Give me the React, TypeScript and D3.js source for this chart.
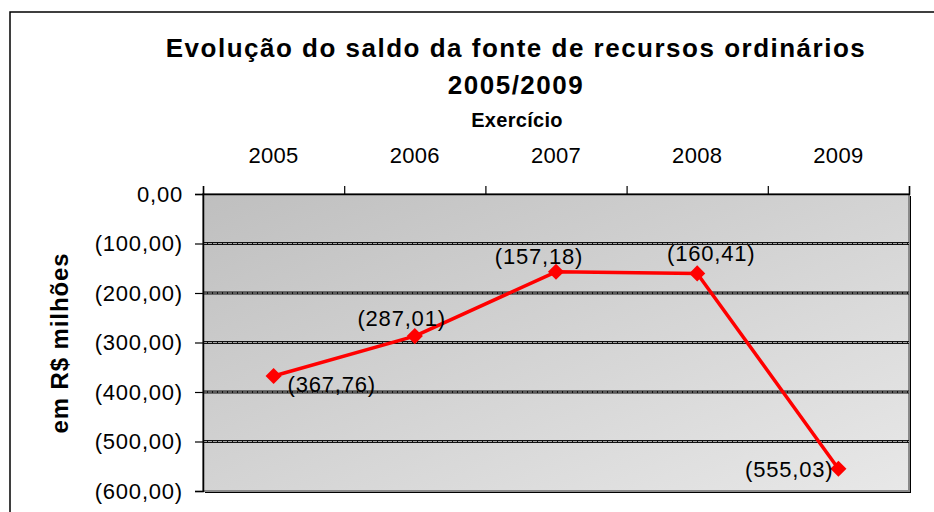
import { useEffect, useRef } from 'react';
import * as d3 from 'd3';

const years = ['2005', '2006', '2007', '2008', '2009'];
const saldo = [-367.76, -287.01, -157.18, -160.41, -555.03];
const yTicks = [0, -100, -200, -300, -400, -500, -600];

const titleLines = ['Evolução do saldo da fonte de recursos ordinários', '2005/2009'];
const xTitle = 'Exercício';
const yTitle = 'em R$ milhões';

// pt-BR style, negatives in parentheses
const fmt = (v: number) => {
  const s = Math.abs(v).toFixed(2).replace('.', ',');
  return v < 0 ? `(${s})` : s;
};

export default function App() {
  const svgRef = useRef<SVGSVGElement>(null);

  useEffect(() => {
    if (!svgRef.current) return;
    const svg = d3.select(svgRef.current);
    svg.selectAll('*').remove();

    const W = 934;
    const H = 512;
    const font = 'Arial, "Liberation Sans", sans-serif';

    // plot area
    const plot = { left: 203, right: 909, top: 194, bottom: 491 };

    const x = d3.scaleBand<string>()
      .domain(years)
      .range([plot.left, plot.right]);

    const y = d3.scaleLinear()
      .domain([0, -600])
      .range([plot.top, plot.bottom]);

    svg.attr('width', W).attr('height', H).style('font-family', font);

    // outer chart frame (right/bottom edges are off-canvas)
    svg.append('rect')
      .attr('x', 10).attr('y', 12)
      .attr('width', W + 20).attr('height', H + 20)
      .attr('fill', 'white')
      .attr('stroke', '#000')
      .attr('stroke-width', 1.5);

    // titles
    const title = svg.append('text')
      .attr('text-anchor', 'middle')
      .attr('font-weight', 'bold')
      .attr('font-size', 26)
      .attr('letter-spacing', 1.5)
      .attr('fill', '#000');
    titleLines.forEach((t, i) => {
      title.append('tspan')
        .attr('x', 516)
        .attr('y', 57 + i * 37)
        .text(t);
    });

    svg.append('text')
      .attr('x', 517)
      .attr('y', 127)
      .attr('text-anchor', 'middle')
      .attr('font-weight', 'bold')
      .attr('font-size', 20)
      .attr('letter-spacing', 0.3)
      .text(xTitle);

    svg.append('text')
      .attr('transform', `translate(68,343) rotate(-90)`)
      .attr('text-anchor', 'middle')
      .attr('font-weight', 'bold')
      .attr('font-size', 24)
      .attr('letter-spacing', 0.9)
      .text(yTitle);

    // plot background gradient
    const defs = svg.append('defs');
    const grad = defs.append('linearGradient')
      .attr('id', 'plotBg')
      .attr('x1', '0').attr('y1', '0')
      .attr('x2', '1').attr('y2', '1');
    grad.append('stop').attr('offset', '0%').attr('stop-color', '#bfbfbf');
    grad.append('stop').attr('offset', '100%').attr('stop-color', '#e8e8e8');

    // shadow below/right of plot
    svg.append('rect')
      .attr('x', plot.left + 2).attr('y', plot.top + 2)
      .attr('width', plot.right - plot.left).attr('height', plot.bottom - plot.top)
      .attr('fill', '#000');

    svg.append('rect')
      .attr('x', plot.left).attr('y', plot.top)
      .attr('width', plot.right - plot.left).attr('height', plot.bottom - plot.top)
      .attr('fill', 'url(#plotBg)')
      .attr('stroke', '#8a8a8a')
      .attr('stroke-width', 2);

    // gridlines: dark double line with light dotted core
    const grid = yTicks.filter(t => t !== 0 && t !== -600);
    svg.append('g')
      .selectAll('line')
      .data(grid)
      .join('line')
      .attr('x1', plot.left).attr('x2', plot.right)
      .attr('y1', d => y(d)).attr('y2', d => y(d))
      .attr('stroke', '#111')
      .attr('stroke-width', 3);
    svg.append('g')
      .selectAll('line')
      .data(grid)
      .join('line')
      .attr('x1', plot.left).attr('x2', plot.right)
      .attr('y1', d => y(d)).attr('y2', d => y(d))
      .attr('stroke', '#c8c8c8')
      .attr('stroke-width', 0.8)
      .attr('stroke-dasharray', '4,1');

    // y axis
    const yAxis = d3.axisLeft(y)
      .tickValues(yTicks)
      .tickSize(8)
      .tickPadding(12)
      .tickFormat(d => fmt(+d));
    const gy = svg.append('g')
      .attr('transform', `translate(${plot.left},0)`)
      .call(yAxis);
    gy.select('.domain').attr('stroke', '#000').attr('stroke-width', 1.5);
    gy.selectAll('.tick line').attr('stroke', '#000').attr('stroke-width', 1.2);
    gy.selectAll('.tick text')
      .attr('font-family', font)
      .attr('font-size', 22)
      .attr('letter-spacing', 0.8)
      .attr('fill', '#000')
      .attr('dy', '0.33em');

    // x axis on top, ticks between categories
    const xb = d3.scaleLinear().domain([0, years.length]).range([plot.left, plot.right]);
    const xAxis = d3.axisTop(xb)
      .ticks(years.length)
      .tickSize(8)
      .tickFormat(() => '');
    const gx = svg.append('g')
      .attr('transform', `translate(0,${plot.top})`)
      .call(xAxis);
    gx.select('.domain').attr('stroke', '#000').attr('stroke-width', 1.5);
    gx.selectAll('.tick line').attr('stroke', '#000').attr('stroke-width', 1.2);

    svg.append('g')
      .selectAll('text')
      .data(years)
      .join('text')
      .attr('x', d => (x(d) ?? 0) + x.bandwidth() / 2)
      .attr('y', 163)
      .attr('text-anchor', 'middle')
      .attr('font-size', 22)
      .attr('letter-spacing', 0.3)
      .text(d => d);

    // series line
    const pts = years.map((yr, i) => ({ yr, v: saldo[i] }));
    const cx = (d: { yr: string }) => (x(d.yr) ?? 0) + x.bandwidth() / 2;
    const line = d3.line<{ yr: string; v: number }>()
      .x(d => cx(d))
      .y(d => y(d.v));

    svg.append('path')
      .datum(pts)
      .attr('fill', 'none')
      .attr('stroke', '#ff0000')
      .attr('stroke-width', 3.5)
      .attr('stroke-linejoin', 'round')
      .attr('d', line);

    // square markers rotated 45deg (Excel diamond)
    svg.append('g')
      .selectAll('path')
      .data(pts)
      .join('path')
      .attr('d', d3.symbol(d3.symbolSquare, 130))
      .attr('transform', d => `translate(${cx(d)},${y(d.v)}) rotate(45)`)
      .attr('fill', '#ff0000');

    // data labels (offsets relative to the marker)
    const labelPos = [
      { dx: 14, dy: 16, anchor: 'start' },
      { dx: 31, dy: -10, anchor: 'end' },
      { dx: -17, dy: -8, anchor: 'middle' },
      { dx: 14, dy: -12, anchor: 'middle' },
      { dx: -5, dy: 8, anchor: 'end' },
    ];
    svg.append('g')
      .selectAll('text')
      .data(pts)
      .join('text')
      .attr('x', (d, i) => cx(d) + labelPos[i].dx)
      .attr('y', (d, i) => y(d.v) + labelPos[i].dy)
      .attr('text-anchor', (d, i) => labelPos[i].anchor)
      .attr('font-size', 22)
      .attr('letter-spacing', 0.8)
      .attr('fill', '#000')
      .text(d => fmt(d.v));
  }, []);

  return (
    <div style={{ position: 'fixed', left: 0, top: 0, width: 934, height: 512, background: 'white' }}>
      <svg ref={svgRef} style={{ display: 'block' }} />
    </div>
  );
}
